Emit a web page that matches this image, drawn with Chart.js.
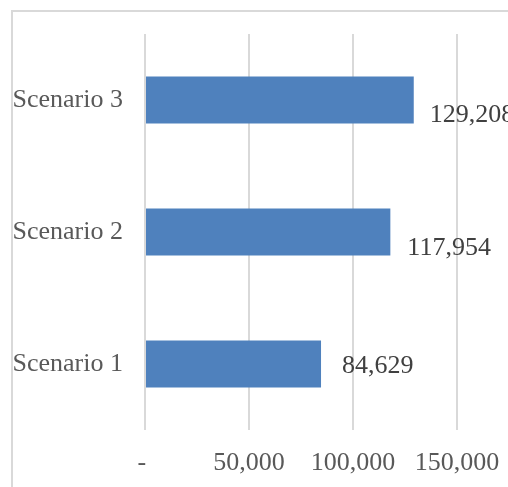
<!DOCTYPE html>
<html>
<head>
<meta charset="utf-8">
<script src="https://cdn.jsdelivr.net/npm/chart.js@4"></script>
<style>
  html, body { margin: 0; padding: 0; background: #ffffff; }
  #wrap { width: 508px; height: 487px; position: relative; }
</style>
</head>
<body>
<div id="wrap"><canvas id="c" width="508" height="487"></canvas></div>
<script>
// ---- data ----
const categories = ['Scenario 1', 'Scenario 2', 'Scenario 3'];
const values = [84629, 117954, 129208];
const valueLabels = ['84,629', '117,954', '129,208'];
const xTickValues = [0, 50000, 100000, 150000];
const xTickLabels = ['- ', '50,000', '100,000', '150,000'];

const FONT = '"Liberation Serif", "Times New Roman", serif';
const FSIZE = 26;

const frame = {
  id: 'frame',
  beforeDraw(chart) {
    const ctx = chart.ctx;
    ctx.save();
    ctx.fillStyle = '#ffffff';
    ctx.fillRect(0, 0, chart.width, chart.height);
    ctx.strokeStyle = '#d9d9d9';
    ctx.lineWidth = 2;
    ctx.strokeRect(12, 11, chart.width + 20, chart.height + 20);
    ctx.restore();
  }
};

const barLabels = {
  id: 'barLabels',
  afterDatasetsDraw(chart, args, opts) {
    const ctx = chart.ctx;
    const meta = chart.getDatasetMeta(0);
    ctx.save();
    ctx.font = FSIZE + 'px ' + FONT;
    ctx.fillStyle = '#404040';
    ctx.textAlign = 'left';
    ctx.textBaseline = 'middle';
    meta.data.forEach((el, i) => {
      const off = opts.offsets[i];
      ctx.fillText(valueLabels[i], el.x + off[0], el.y + off[1]);
    });
    ctx.restore();
  }
};

new Chart(document.getElementById('c'), {
  type: 'bar',
  data: {
    labels: categories,
    datasets: [{
      data: values,
      backgroundColor: '#4f81bd',
      borderWidth: 0,
      categoryPercentage: 1,
      barPercentage: 0.355
    }]
  },
  options: {
    indexAxis: 'y',
    responsive: false,
    animation: false,
    layout: { padding: { top: 34, right: 51, left: 0, bottom: 0 } },
    plugins: {
      legend: { display: false },
      tooltip: { enabled: false },
      barLabels: { offsets: [[21, 2.5], [17, 16], [16, 15]] }
    },
    scales: {
      x: {
        min: 0,
        max: 150000,
        afterBuildTicks(scale) { scale.ticks = xTickValues.map(v => ({ value: v })); },
        afterFit(scale) { scale.height = 57; scale.paddingLeft = 0; scale.paddingRight = 0; },
        grid: { color: '#d9d9d9', lineWidth: 2, drawTicks: false },
        border: { display: false },
        ticks: {
          padding: 18,
          color: '#595959',
          font: { family: FONT, size: FSIZE },
          maxRotation: 0,
          callback: (v, i) => xTickLabels[i]
        }
      },
      y: {
        reverse: true,
        afterFit(scale) { scale.width = 145; scale.paddingTop = 0; scale.paddingBottom = 0; },
        grid: { display: false, drawTicks: false },
        border: { display: false },
        ticks: {
          padding: 22,
          color: '#595959',
          font: { family: FONT, size: FSIZE }
        }
      }
    }
  },
  plugins: [frame, barLabels]
});
</script>
</body>
</html>
